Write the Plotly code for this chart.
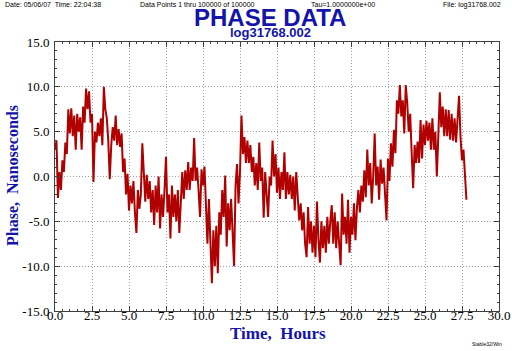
import plotly.graph_objects as go

phase = [
    3.0, 4.0, -2.4, 0.5, -1.5, 1.8, 0.5, 3.8, 2.5, 7.5,
    4.8, 7.6, 4.5, 6.8, 3.0, 7.0, 5.0, 6.6, 3.0, 7.8,
    6.0, 9.8, 7.5, 9.5, 6.0, 7.0, -0.6, 5.0, 3.8, 6.0,
    4.5, 6.5, 3.5, 10.0, 7.5, 6.5, 4.0, -0.3, 3.5, 5.5,
    4.0, 6.8, 3.5, 5.3, 3.3, 4.8, 0.5, 2.0, -2.0, 0.3,
    -3.8, -1.0, -3.0, -0.5, -4.0, -6.3, -1.5, -3.6, -2.0, 3.7,
    0.5, -2.8, 0.2, -2.5, -0.5, -4.0, -1.5, -5.4, -1.0, -4.0,
    0.0, -5.8, -2.0, -4.5, -1.5, 2.2, -4.0, -2.0, -6.9, -1.0,
    -4.5, -2.0, -5.0, -1.5, -6.3, -3.0, 0.5, -2.5, 0.7, -1.5,
    1.6, -1.5, 1.0, -0.5, 4.3, -0.5, 1.0, -1.5, -4.5, 0.8,
    -1.0, 1.1, -4.0, -7.5, -2.5, -8.0, -11.9, -6.0, -10.0, -5.5,
    -10.8, -4.0, -6.5, -1.5, -4.5, 0.1, -7.8, -3.0, -6.0, -2.5,
    -6.5, -10.0, -1.0, 1.4, -3.0, 0.5, 6.8, 2.5, 4.4, 1.5,
    4.0, 1.5, 3.5, 0.5, 2.2, -1.0, 1.5, -1.5, 3.8, -0.5,
    1.0, -4.6, 0.5, -1.5, -4.5, 0.0, -1.0, 4.0, 0.0, 2.5,
    -1.8, 1.0, -2.5, 0.5, -1.5, 2.7, -2.5, 0.5, -2.0, 0.2,
    -2.5, 0.0, -3.8, 0.5, -2.5, -4.9, -3.0, -6.0, -4.0, -7.5,
    -9.0, -3.4, -7.5, -5.0, -8.5, -5.5, -9.0, -2.8, -7.0, -9.6,
    -5.0, -8.0, -5.5, -8.5, -4.5, -7.5, -5.0, -3.2, -7.5, -4.0,
    -8.0, -5.0, -7.5, -9.9, -1.9, -6.5, -4.5, -7.5, -2.6, -8.5,
    -4.5, -6.5, -3.0, -7.1, -3.5, -1.5, -4.0, -1.0, -2.8, 0.7,
    -2.3, 3.0, -1.0, 1.5, -3.0, 0.0, 4.8, -1.0, 1.1, -2.6,
    1.9, -0.8, 1.0, -1.5, -4.9, 2.0, -0.5, 3.7, 1.1, 5.2,
    2.6, 8.5, 7.0, 10.2, 6.7, 8.5, 4.8, 10.2, 8.2, 5.0,
    7.0, 2.6, -1.3, 3.5, 1.5, 3.9, 1.5, 6.3, 2.0, 5.8,
    3.5, 6.2, 4.0, 6.0, 3.0, 6.5, 3.0, 5.0, 0.0, 4.5,
    9.4, 5.5, 7.8, 4.5, 7.5, 4.5, 7.4, 4.1, 7.0, 4.0,
    6.5, 3.8, 6.0, 9.0, 4.4, 1.8, 3.0, 0.3, -2.6,
]
sample_step_hours = 0.1
hours = [round(i * sample_step_hours, 1) for i in range(len(phase))]

x_ticks = [0.0, 2.5, 5.0, 7.5, 10.0, 12.5, 15.0, 17.5, 20.0, 22.5, 25.0, 27.5, 30.0]
y_ticks = [-15.0, -10.0, -5.0, 0.0, 5.0, 10.0, 15.0]

BLUE = "#1414AA"
RED = "#B00000"

fig = go.Figure()
fig.add_trace(go.Scatter(
    x=hours, y=phase, mode="lines",
    line=dict(color=RED, width=2),
    hoverinfo="skip", showlegend=False,
))

# plot area in pixels: x 55..499, y 42..311
L, R, T, B = 55, 499, 42, 311
W, H = 512, 351


def px(x):
    return (x - L) / (R - L)


def py(y):
    return (B - y) / (B - T)


axis_common = dict(
    showline=True, linecolor="#404040", linewidth=1, mirror="allticks",
    ticks="inside", ticklen=5, tickcolor="#404040",
    showgrid=True, gridcolor="#A0A0A0", griddash="1px,2px", gridwidth=1,
    zeroline=False,
    tickfont=dict(family="Liberation Serif", size=13, color="black"),
)

fig.update_xaxes(
    range=[0, 30], tickvals=x_ticks, ticktext=[f"{v:.1f}" for v in x_ticks],
    minor=dict(dtick=0.5, ticks="inside", ticklen=2, tickcolor="#404040", showgrid=False),
    ticklabelstandoff=-8,
    **axis_common,
)
fig.update_yaxes(
    range=[-15, 15], tickvals=y_ticks, ticktext=[f"{v:.1f}" for v in y_ticks],
    minor=dict(dtick=1.0, ticks="inside", ticklen=2, tickcolor="#404040", showgrid=False),
    ticklabelstandoff=2,
    **axis_common,
)

small = dict(family="Liberation Sans", size=7, color="black")
ann = [
    dict(text="Date: 05/06/07  Time: 22:04:38", x=px(3), y=py(5), xanchor="left", yanchor="middle", font=small),
    dict(text="Data Points 1 thru 100000 of 100000", x=px(138), y=py(5), xanchor="left", yanchor="middle", font=small),
    dict(text="Tau=1.0000000e+00", x=px(309), y=py(5), xanchor="left", yanchor="middle", font=small),
    dict(text="File: log31768.002", x=px(503), y=py(5), xanchor="right", yanchor="middle", font=small),
    dict(text="<b>PHASE DATA</b>", x=px(270), y=py(18), xanchor="center", yanchor="middle",
         font=dict(family="Liberation Sans", size=24, color=BLUE)),
    dict(text="<b>log31768.002</b>", x=px(270), y=py(32), xanchor="center", yanchor="middle",
         font=dict(family="Liberation Sans", size=13, color=BLUE)),
    dict(text="<b>Time,  Hours</b>", x=px(278), y=py(333), xanchor="center", yanchor="middle",
         font=dict(family="Liberation Serif", size=17, color=BLUE)),
    dict(text="<b>Phase,  Nanoseconds</b>", x=px(12), y=py(176), xanchor="center", yanchor="middle",
         textangle=-90, font=dict(family="Liberation Serif", size=16, color=BLUE)),
    dict(text="Stable32/Win", x=px(504), y=py(344), xanchor="right", yanchor="middle",
         font=dict(family="Liberation Sans", size=5, color="black")),
]
for a in ann:
    a.update(xref="paper", yref="paper", showarrow=False)

fig.update_layout(
    width=W, height=H,
    margin=dict(l=L, r=W - R, t=T, b=H - B, autoexpand=False),
    paper_bgcolor="white", plot_bgcolor="white",
    annotations=ann,
)

fig.write_html(
    "out.html",
    config={"displayModeBar": False, "staticPlot": True},
    post_script="document.body.style.margin='0px';document.body.style.overflow='hidden';",
)
